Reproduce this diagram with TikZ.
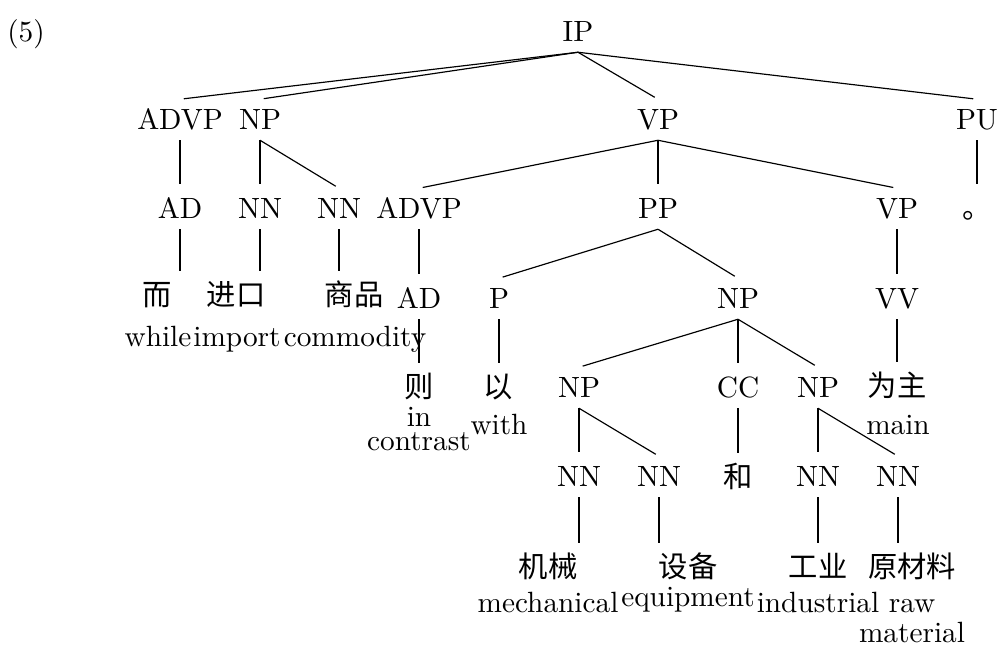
\documentclass[tikz,border=0pt]{standalone}
\usepackage{fontspec}
\newfontfamily\zhfont{Noto Sans CJK SC}

\begin{document}
\begin{tikzpicture}[x=0.3413pt, y=-0.3413pt,
    cat/.style={anchor=base, inner xsep=0pt, inner ysep=3.3pt, text height=7pt, text depth=0pt},
    word/.style={cat, font=\zhfont},
    gloss/.style={anchor=base, inner sep=0pt, align=center},
    branch/.style={shorten >=1.3pt},
  ]

  \useasboundingbox (0,0) rectangle (999,646);

  % Example number
  \node [anchor=base] (num) at (26,42) {(5)};

  % Define categories, one row per level
  \node [cat] (ip) at (578,42) {IP};

  \node [cat] (advp1) at (180,130) {ADVP};
  \node [cat] (np1) at (260,130) {NP};
  \node [cat] (vp1) at (658,130) {VP};
  \node [cat] (pu) at (977,130) {PU};

  \node [cat] (ad1) at (180,219) {AD};
  \node [cat] (nn1) at (260,219) {NN};
  \node [cat] (nn2) at (339,219) {NN};
  \node [cat] (advp2) at (419,219) {ADVP};
  \node [cat] (pp) at (658,219) {PP};
  \node [cat] (vp2) at (897,219) {VP};
  \node [word] (stop) at (977,219) {。};

  \node [word] (er) at (157,306) {而};
  \node [word] (jinkou) at (236,306) {进口};
  \node [word] (shangpin) at (354,306) {商品};
  \node [cat] (ad2) at (419,309) {AD};
  \node [cat] (p) at (499,309) {P};
  \node [cat] (np2) at (738,309) {NP};
  \node [cat] (vv) at (897,309) {VV};

  \node [word] (ze) at (419,398) {则};
  \node [word] (yi) at (498,398) {以};
  \node [cat] (np3) at (579,398) {NP};
  \node [cat] (cc) at (738,398) {CC};
  \node [cat] (np4) at (818,398) {NP};
  \node [word] (weizhu) at (897,397) {为主};

  \node [cat] (nn3) at (579,487) {NN};
  \node [cat] (nn4) at (659,487) {NN};
  \node [word] (he) at (738,488) {和};
  \node [cat] (nn5) at (818,487) {NN};
  \node [cat] (nn6) at (898,487) {NN};

  \node [word] (jixie) at (548,578) {机械};
  \node [word] (shebei) at (688,578) {设备};
  \node [word] (gongye) at (818,578) {工业};
  \node [word] (yuancailiao) at (912,578) {原材料};

  % English glosses under the words (base = last line)
  \node [gloss] (gwhile) at (158,347) {while};
  \node [gloss] (gimport) at (237,347) {import};
  \node [gloss] (gcommodity) at (355,347) {commodity};
  \node [gloss] (gincontrast) at (419,451) {in\\[-3.8pt]contrast};
  \node [gloss] (gwith) at (499,435) {with};
  \node [gloss] (gmain) at (898,435) {main};
  \node [gloss] (gmechanical) at (548,613) {mechanical};
  \node [gloss] (gequipment) at (688,607) {equipment};
  \node [gloss] (gindustrial) at (818,613) {industrial};
  \node [gloss] (grawmaterial) at (912,642) {raw\\[-2.1pt]material};

  % Draw branches
  \draw [branch] (ip.south) -- (advp1.north);
  \draw [branch] (ip.south) -- (np1.north);
  \draw [branch] (ip.south) -- (vp1.north);
  \draw [branch] (ip.south) -- (pu.north);

  \draw [branch] (advp1.south) -- (ad1.north);
  \draw [branch] (np1.south) -- (nn1.north);
  \draw [branch] (np1.south) -- (nn2.north);
  \draw [branch] (vp1.south) -- (advp2.north);
  \draw [branch] (vp1.south) -- (pp.north);
  \draw [branch] (vp1.south) -- (vp2.north);
  \draw [branch] (pu.south) -- (pu.south |- stop.north);

  \draw [branch] (ad1.south) -- (ad1.south |- er.north);
  \draw [branch] (nn1.south) -- (nn1.south |- jinkou.north);
  \draw [branch] (nn2.south) -- (nn2.south |- shangpin.north);
  \draw [branch] (advp2.south) -- (ad2.north);
  \draw [branch] (pp.south) -- (p.north);
  \draw [branch] (pp.south) -- (np2.north);
  \draw [branch] (vp2.south) -- (vv.north);

  \draw [branch] (ad2.south) -- (ad2.south |- ze.north);
  \draw [branch] (p.south) -- (p.south |- yi.north);
  \draw [branch] (np2.south) -- (np3.north);
  \draw [branch] (np2.south) -- (cc.north);
  \draw [branch] (np2.south) -- (np4.north);
  \draw [branch] (vv.south) -- (vv.south |- weizhu.north);

  \draw [branch] (np3.south) -- (nn3.north);
  \draw [branch] (np3.south) -- (nn4.north);
  \draw [branch] (cc.south) -- (cc.south |- he.north);
  \draw [branch] (np4.south) -- (nn5.north);
  \draw [branch] (np4.south) -- (nn6.north);

  \draw [branch] (nn3.south) -- (nn3.south |- jixie.north);
  \draw [branch] (nn4.south) -- (nn4.south |- shebei.north);
  \draw [branch] (nn5.south) -- (nn5.south |- gongye.north);
  \draw [branch] (nn6.south) -- (nn6.south |- yuancailiao.north);
\end{tikzpicture}
\end{document}
